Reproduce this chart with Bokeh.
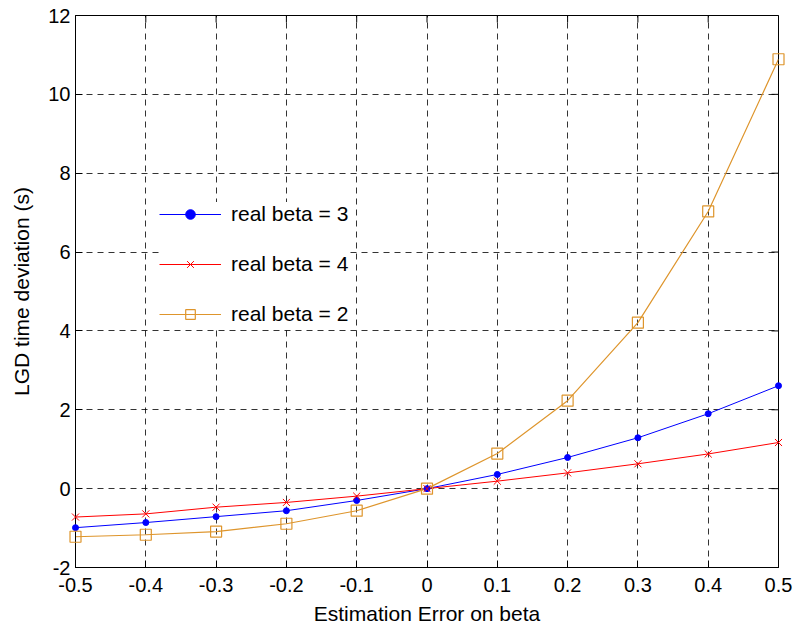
from math import pi
from bokeh.plotting import figure
from bokeh.models import Range1d, FixedTicker, Legend, LegendItem
from bokeh.embed import file_html
from bokeh.resources import INLINE

# ---- data ----
x_err = [-0.5, -0.4, -0.3, -0.2, -0.1, 0.0, 0.1, 0.2, 0.3, 0.4, 0.5]
beta3 = [-0.99, -0.86, -0.71, -0.56, -0.30, 0.0, 0.36, 0.79, 1.29, 1.90, 2.61]
beta4 = [-0.72, -0.64, -0.47, -0.35, -0.19, 0.0, 0.19, 0.40, 0.63, 0.88, 1.17]
beta2 = [-1.22, -1.17, -1.09, -0.89, -0.56, 0.0, 0.89, 2.23, 4.21, 7.03, 10.89]

x_ticks = [-0.5, -0.4, -0.3, -0.2, -0.1, 0.0, 0.1, 0.2, 0.3, 0.4, 0.5]
x_tick_labels = ["-0.5", "-0.4", "-0.3", "-0.2", "-0.1", "0", "0.1", "0.2", "0.3", "0.4", "0.5"]
y_ticks = [-2, 0, 2, 4, 6, 8, 10, 12]
y_tick_labels = ["-2", "0", "2", "4", "6", "8", "10", "12"]

labels = ["real beta = 3", "real beta = 4", "real beta = 2"]

FONT = "Liberation Sans"
BLUE = "#0000FF"
RED = "#FF0000"
ORANGE = "#DE952C"

X_MIN, X_MAX = x_ticks[0], x_ticks[-1]
Y_MIN, Y_MAX = y_ticks[0], y_ticks[-1]

p = figure(width=795, height=628, output_backend="svg", toolbar_location=None,
           x_range=Range1d(X_MIN, X_MAX), y_range=Range1d(Y_MIN, Y_MAX),
           min_border_left=75, min_border_right=17, min_border_top=15,
           min_border_bottom=61, background_fill_color="white",
           border_fill_color="white")
p.outline_line_color = "black"
p.outline_line_width = 1

p.xaxis.ticker = FixedTicker(ticks=x_ticks)
p.yaxis.ticker = FixedTicker(ticks=y_ticks)
p.xaxis.major_label_overrides = {t: l for t, l in zip(x_ticks, x_tick_labels)}
p.yaxis.major_label_overrides = {t: l for t, l in zip(y_ticks, y_tick_labels)}
p.xaxis.axis_label = "Estimation Error on beta"
p.yaxis.axis_label = "LGD time deviation (s)"

for ax in (p.xaxis[0], p.yaxis[0]):
    ax.major_label_text_font = FONT
    ax.major_label_text_font_size = "20px"
    ax.major_label_text_color = "black"
    ax.axis_label_text_font = FONT
    ax.axis_label_text_font_size = "21px"
    ax.axis_label_text_font_style = "normal"
    ax.axis_label_text_color = "black"
    ax.major_tick_in = 7
    ax.major_tick_out = 0
    ax.minor_tick_line_color = None
    ax.axis_line_color = "black"
    ax.major_tick_line_color = "black"
p.xaxis.major_label_standoff = 10
p.xaxis.axis_label_standoff = 7
p.yaxis.major_label_standoff = 5
p.yaxis.axis_label_standoff = 12

for g in (p.xgrid[0], p.ygrid[0]):
    g.grid_line_color = "black"
    g.grid_line_alpha = 0.8
    g.grid_line_dash = "6 5"
    g.grid_line_width = 1

# mirrored inward ticks on the top and right edges (clipped half-dashes)
p.scatter(x_ticks, [Y_MAX] * len(x_ticks), marker="dash", size=14, angle=pi / 2,
          line_color="black", line_width=1)
p.scatter([X_MAX] * len(y_ticks), y_ticks, marker="dash", size=14,
          line_color="black", line_width=1)

l3 = p.line(x_err, beta3, line_color=BLUE, line_width=1)
s3 = p.scatter(x_err, beta3, marker="circle", size=6, fill_color=BLUE, line_color=BLUE, level="overlay")
l4 = p.line(x_err, beta4, line_color=RED, line_width=1)
s4 = p.scatter(x_err, beta4, marker="x", size=10, line_color=RED, line_width=1, level="overlay")
l2 = p.line(x_err, beta2, line_color=ORANGE, line_width=1.2)
s2 = p.scatter(x_err, beta2, marker="square", size=11, fill_color=None, line_color=ORANGE,
               line_width=1.2, level="overlay")

legend = Legend(items=[LegendItem(label=labels[0], renderers=[l3, s3]),
                       LegendItem(label=labels[1], renderers=[l4, s4]),
                       LegendItem(label=labels[2], renderers=[l2, s2])],
                location=(84, 241), margin=0, padding=4, spacing=26,
                label_height=24, glyph_height=24, glyph_width=62,
                label_standoff=10, label_text_font=FONT, label_text_font_size="21px",
                label_text_color="black", border_line_color=None,
                background_fill_color="white", background_fill_alpha=1.0)
p.add_layout(legend, "center")

open("out.html", "w").write(file_html(p, INLINE))
